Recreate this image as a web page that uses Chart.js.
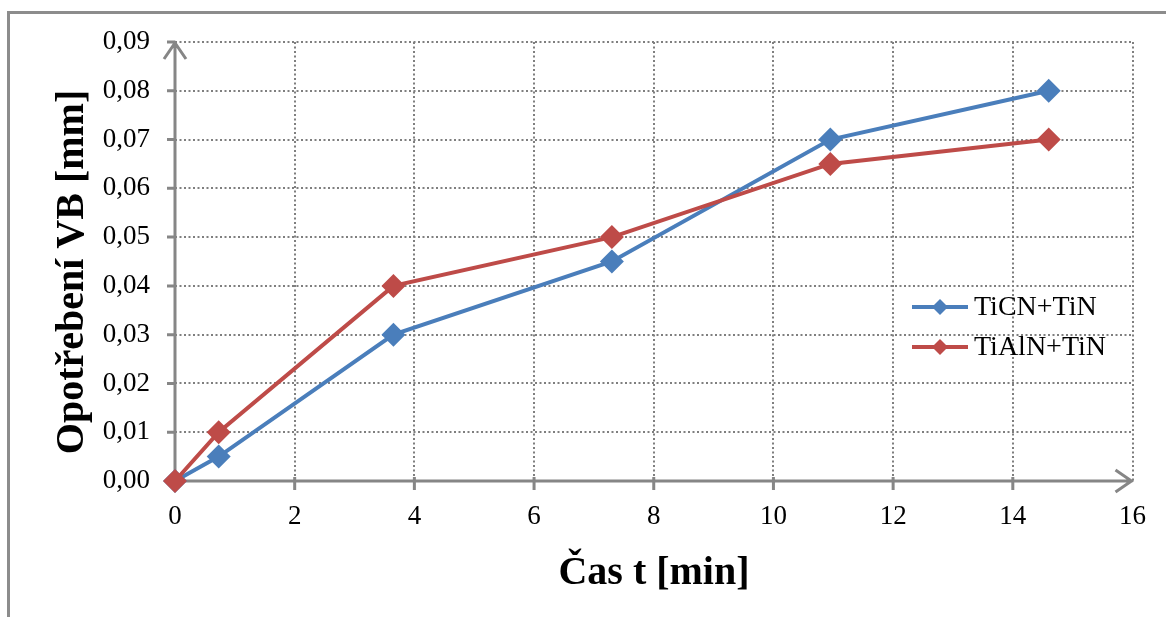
<!DOCTYPE html>
<html>
<head>
<meta charset="utf-8">
<script src="https://cdn.jsdelivr.net/npm/chart.js@4.4.1/dist/chart.umd.min.js"></script>
<style>
  html, body { margin: 0; padding: 0; background: #fff; }
  #wrap { position: relative; width: 1166px; height: 617px; overflow: hidden; }
  #frame { position: absolute; left: 7px; top: 11px; right: -10px; bottom: -10px;
           border-top: 3px solid #8c8c8c; border-left: 3px solid #8c8c8c; }
  #chart { position: absolute; left: 0; top: 0; }
</style>
</head>
<body>
<div id="wrap">
  <div id="frame"></div>
  <canvas id="chart" width="1166" height="617"></canvas>
</div>
<script>
// cutting time [min] and flank wear VB [mm]
const times = [0, 0.73, 3.65, 7.3, 10.95, 14.6];
const ticnTin = [0, 0.005, 0.03, 0.045, 0.07, 0.08];
const tialnTin = [0, 0.01, 0.04, 0.05, 0.065, 0.07];
const seriesNames = ["TiCN+TiN", "TiAlN+TiN"];
const seriesColors = ["#4a7ebb", "#be4b48"];
const xTitle = "Čas t [min]";
const yTitle = "Opotřebení VB [mm]";

const FONT = "'Liberation Serif', 'Times New Roman', serif";
const AXIS = "#868686";

function points(ys) {
    return times.map((t, i) => ({ x: t, y: ys[i] }));
}

// axis lines with open arrow heads, tick marks, titles and legend
const decorations = {
    id: "decorations",
    beforeDatasetsDraw(chart) {
        const { ctx, chartArea: a, scales } = chart;
        ctx.save();
        ctx.strokeStyle = AXIS;
        ctx.lineWidth = 3;
        ctx.beginPath();
        ctx.moveTo(a.left, a.bottom);
        ctx.lineTo(a.left, a.top);
        ctx.moveTo(a.left, a.bottom);
        ctx.lineTo(a.right, a.bottom);
        ctx.moveTo(a.left - 11, a.top + 17);
        ctx.lineTo(a.left, a.top + 1);
        ctx.lineTo(a.left + 11, a.top + 17);
        ctx.moveTo(a.right - 17, a.bottom - 11);
        ctx.lineTo(a.right - 1, a.bottom);
        ctx.lineTo(a.right - 17, a.bottom + 11);
        scales.y.ticks.forEach((t, i) => {
            const py = scales.y.getPixelForTick(i);
            ctx.moveTo(a.left - 8, py);
            ctx.lineTo(a.left, py);
        });
        scales.x.ticks.forEach((t, i) => {
            if (i === 0 || i === scales.x.ticks.length - 1) return;
            const px = scales.x.getPixelForTick(i);
            ctx.moveTo(px, a.bottom - 4);
            ctx.lineTo(px, a.bottom + 9);
        });
        ctx.stroke();
        ctx.restore();
    },
    afterDraw(chart) {
        const { ctx } = chart;
        ctx.save();
        ctx.fillStyle = "#000";
        ctx.font = "bold 40px " + FONT;
        ctx.textAlign = "center";
        ctx.textBaseline = "alphabetic";
        ctx.fillText(xTitle, 654, 584);
        ctx.translate(83, 272);
        ctx.rotate(-Math.PI / 2);
        ctx.fillText(yTitle, 0, 0);
        ctx.restore();

        // legend
        ctx.save();
        ctx.font = "28px " + FONT;
        ctx.textAlign = "left";
        ctx.textBaseline = "middle";
        seriesNames.forEach((name, i) => {
            const y = 307 + i * 40;
            ctx.strokeStyle = seriesColors[i];
            ctx.fillStyle = seriesColors[i];
            ctx.lineWidth = 4;
            ctx.beginPath();
            ctx.moveTo(912, y);
            ctx.lineTo(968, y);
            ctx.stroke();
            ctx.beginPath();
            ctx.moveTo(940, y - 8);
            ctx.lineTo(948, y);
            ctx.lineTo(940, y + 8);
            ctx.lineTo(932, y);
            ctx.closePath();
            ctx.fill();
            ctx.fillStyle = "#000";
            ctx.fillText(name, 974, y + 1);
        });
        ctx.restore();
    }
};

const gridOpts = {
    color: "#7f7f7f",
    lineWidth: 2,
    drawTicks: false
};
const borderOpts = { display: false, dash: [2, 2.5] };

new Chart(document.getElementById("chart"), {
    type: "line",
    data: {
        datasets: [ticnTin, tialnTin].map((ys, i) => ({
            label: seriesNames[i],
            data: points(ys),
            borderColor: seriesColors[i],
            backgroundColor: seriesColors[i],
            borderWidth: 4,
            pointStyle: "rectRot",
            pointRadius: 12,
            pointBorderWidth: 0,
            tension: 0,
            clip: false,
            order: 1 - i
        }))
    },
    options: {
        responsive: false,
        animation: false,
        events: [],
        layout: { padding: { top: 42, right: 31, left: 0, bottom: 0 } },
        plugins: {
            legend: { display: false },
            tooltip: { enabled: false }
        },
        scales: {
            x: {
                type: "linear",
                min: 0,
                max: 16,
                border: borderOpts,
                grid: gridOpts,
                ticks: {
                    stepSize: 2,
                    padding: 20,
                    color: "#000",
                    font: { family: FONT, size: 27 }
                },
                afterFit: s => { s.height = 617 - 481; }
            },
            y: {
                min: 0,
                max: 0.09,
                border: borderOpts,
                grid: gridOpts,
                ticks: {
                    stepSize: 0.01,
                    padding: 25,
                    color: "#000",
                    font: { family: FONT, size: 27 },
                    callback: v => v.toFixed(2).replace(".", ",")
                },
                afterFit: s => { s.width = 175; }
            }
        }
    },
    plugins: [decorations]
});
</script>
</body>
</html>
